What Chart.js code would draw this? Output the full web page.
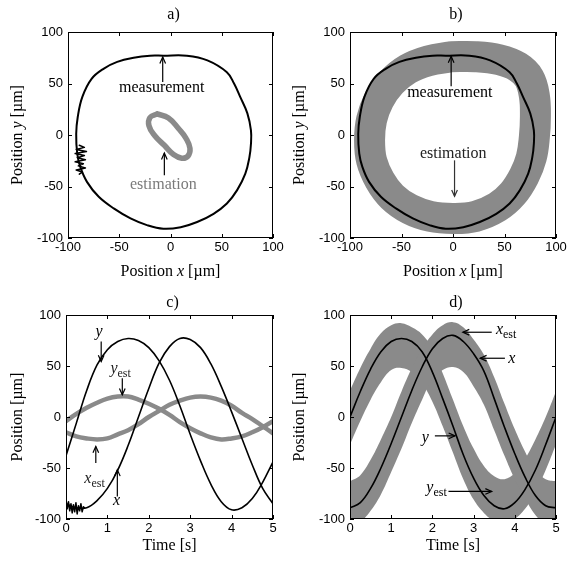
<!DOCTYPE html>
<html><head><meta charset="utf-8">
<script src="https://cdn.jsdelivr.net/npm/chart.js@4.4.0/dist/chart.umd.min.js"></script>
<style>
html,body{margin:0;padding:0;background:#fff;}
#wrap{position:relative;width:569px;height:569px;overflow:hidden;background:#fff;}
canvas{position:absolute;left:0;top:0;}
</style>
</head><body>
<div id="wrap">
<canvas id="ca" width="569" height="569"></canvas>
<canvas id="cb" width="569" height="569"></canvas>
<canvas id="cc" width="569" height="569"></canvas>
<canvas id="cd" width="569" height="569"></canvas>
</div>
<script>
// ---------- data: panels a) and b) (Position x / Position y, µm) ----------
const circX = [-7,16,36,55,62,68,75,78.5,78.5,77,73,65,55,42,26,10,-7,-23,-39,-55,-70,-81.5,-88,-91,-92,-90.5,-86,-77,-65,-52,-36,-20,-7];
const circY = [77,77,72.5,61,50,37,21,4.5,-8.5,-21.5,-37.5,-53.5,-66.5,-76.5,-84.5,-89.5,-91,-87.5,-81,-71.5,-60,-45.5,-31,-18,1,17.5,37,54.5,64.5,71,75,77,77];
const noiseAX = [-89,-84,-92,-82,-93,-84,-91,-83,-93,-85,-90,-83,-92,-86,-89];
const noiseAY = [-10,-12,-14,-16,-18,-20,-22,-24,-26,-28,-30,-32,-34,-36,-38];
const ellX = [-13,-2,8,15,19,17,11,3,-6,-15.5,-21,-20,-13];
const ellY = [20.5,16.5,6,-3,-13,-20.5,-22.5,-19,-10,-0.5,9,17,20.5];
const ringX = [-2,22,45,63,74,79,80,79,76,69,58,43,22,0,-22,-42,-59,-71,-79,-81,-79,-72,-60,-44,-24,-2];
const ringY = [76,76,73,66,55,38,18,-2,-22,-40,-57,-70,-79,-81,-79,-72,-60,-44,-25,-5,15,34,51,64,72,76];

// ---------- data: panel c) (Time s / Position µm) ----------
const timeC = [0,0.25,0.5,0.75,1,1.25,1.5,1.75,2,2.25,2.5,2.75,3,3.25,3.5,3.75,4,4.25,4.5,4.75,5];
const xMeasC = [-85,-89,-89,-82,-70,-52,-28,0,28,53,69,77,76,68,52,30,5,-21,-47,-70,-85];
const yMeasC = [-38,-6,26,51,66,74,77,75,68,55,36,11,-17,-43,-66,-83,-91,-89,-80,-64,-44];
const xEstC  = [-15,-19,-21,-22,-21,-17,-13,-7,0,6,12,16,19,20,19,16,11,4,-2,-9,-16];
const yEstC  = [-4,3,9,14,18,20,20,17,13,8,2,-5,-11,-16,-20,-22,-21,-19,-15,-10,-4];
const noiseCT = [0,0.03,0.06,0.09,0.12,0.15,0.18,0.21,0.24,0.27,0.3,0.33,0.36,0.39,0.42,0.45];
const noiseCV = [-81,-90,-83,-92,-85,-94,-86,-93,-84,-95,-87,-92,-85,-93,-88,-89];

// ---------- data: panel d) ----------
const timeD = [0,0.25,0.5,0.75,1,1.25,1.5,1.75,2,2.25,2.5,2.75,3,3.25,3.5,3.75,4,4.25,4.5,4.75,5];
const xMeasD = [-89,-84,-70,-50,-26,0,26,49,67,77,80,74,62,45,18,-10,-36,-59,-77,-87,-89];
const yMeasD = [0,25,47,64,74,77,74,64,44,18,-9,-37,-60,-77,-87,-90,-84,-71,-52,-27,0];
const xEstHiD = [-63,-57,-42,-22,0,25,48,67,81,90,93,88,76,61,39,13,-12,-34,-52,-61,-63];
const xEstLoD = [-107,-103,-92,-76,-54,-31,-6,17,37,46,49,44,30,12,-13,-38,-61,-80,-96,-105,-107];
const yEstHiD = [26,48,67,82,90,92,88,81,67,43,17,-9,-31,-48,-58,-61,-55,-41,-22,0,25];
const yEstLoD = [-27,-4,17,34,46,48,44,33,15,-9,-35,-61,-81,-94,-102,-105,-100,-90,-74,-52,-27];

// ---------- tick settings ----------
const posTicks = [-100,-50,0,50,100];
const timeTicks = [0,1,2,3,4,5];

// ---------- styling ----------
const GRAY = '#8a8a8a';
const SERIF = '"Liberation Serif","Times New Roman",Times,serif';
const SANS = '"Liberation Sans",Arial,Helvetica,sans-serif';
const TL = 4;

function pts(xs, ys){ return xs.map((v,i)=>({x:v, y:ys[i]})); }
function lineDs(xs, ys, color, width, tension){
  return {data:pts(xs,ys), borderColor:color, borderWidth:width, pointRadius:0, fill:false,
          tension: tension===undefined?0.4:tension, clip:0, borderJoinStyle:'round', borderCapStyle:'round'};
}
function bandHi(ts, hi){ return {data:pts(ts,hi), borderWidth:0, borderColor:'rgba(0,0,0,0)', pointRadius:0, fill:false, tension:0.4, backgroundColor:GRAY}; }
function bandLo(ts, lo){ return {data:pts(ts,lo), borderWidth:0, borderColor:'rgba(0,0,0,0)', pointRadius:0, fill:'-1', tension:0.4, backgroundColor:GRAY}; }

function fontFor(p){ return (p.it?'italic ':'') + (p.sub?12:16) + 'px ' + SERIF; }
function rich(ctx, parts, x, y, rot){
  ctx.save(); ctx.translate(x,y); if(rot) ctx.rotate(-Math.PI/2);
  let w=0; for(const p of parts){ ctx.font=fontFor(p); w+=ctx.measureText(p.t).width; }
  let cx=-w/2; ctx.textAlign='left'; ctx.textBaseline='alphabetic';
  for(const p of parts){ ctx.font=fontFor(p); ctx.fillText(p.t,cx,p.sub?4:0); cx+=ctx.measureText(p.t).width; }
  ctx.restore();
}
function arrow(ctx, x1,y1,x2,y2,color){
  ctx.save(); ctx.strokeStyle=color; ctx.lineWidth=1.2;
  ctx.beginPath(); ctx.moveTo(x1,y1); ctx.lineTo(x2,y2); ctx.stroke();
  const a=Math.atan2(y2-y1,x2-x1), L=7, s=0.42;
  ctx.beginPath();
  ctx.moveTo(x2-L*Math.cos(a-s), y2-L*Math.sin(a-s)); ctx.lineTo(x2,y2);
  ctx.lineTo(x2-L*Math.cos(a+s), y2-L*Math.sin(a+s));
  ctx.stroke(); ctx.restore();
}
function deco(d){
  return { id:'deco', afterDraw(chart){
    const {ctx, chartArea:a, scales:{x,y}} = chart;
    ctx.save();
    ctx.strokeStyle='#000'; ctx.lineWidth=1;
    const L=Math.round(a.left), T=Math.round(a.top), R=Math.round(a.right), B=Math.round(a.bottom);
    ctx.strokeRect(L+0.5, T+0.5, R-L-1, B-T-1);
    ctx.beginPath();
    for(const t of x.ticks){ const p=Math.round(x.getPixelForValue(t.value))+0.5;
      ctx.moveTo(p,B); ctx.lineTo(p,B-TL); ctx.moveTo(p,T); ctx.lineTo(p,T+TL); }
    for(const t of y.ticks){ const p=Math.round(y.getPixelForValue(t.value))+0.5;
      ctx.moveTo(L,p); ctx.lineTo(L+TL,p); ctx.moveTo(R,p); ctx.lineTo(R-TL,p); }
    ctx.stroke();
    ctx.fillStyle='#000';
    rich(ctx, [{t:d.title}], (a.left+a.right)/2 + 3, d.titleY);
    rich(ctx, d.xTitle, (a.left+a.right)/2, d.xTitleY);
    rich(ctx, d.yTitle, d.yTitleX, (a.top+a.bottom)/2, true);
    for(const n of d.notes){
      ctx.fillStyle=n.color||'#000';
      rich(ctx, n.parts, x.getPixelForValue(n.x), y.getPixelForValue(n.y));
      arrow(ctx, x.getPixelForValue(n.a[0]), y.getPixelForValue(n.a[1]), x.getPixelForValue(n.a[2]), y.getPixelForValue(n.a[3]), n.acolor||'#000');
    }
    ctx.restore();
  }};
}
function make(id, cfg){
  return new Chart(document.getElementById(id), {
    type:'line',
    data:{datasets:cfg.datasets},
    options:{
      responsive:false, animation:false, devicePixelRatio:1, events:[],
      layout:{padding:cfg.pad},
      plugins:{legend:{display:false}, tooltip:{enabled:false}, title:{display:false}},
      scales:{
        x:{type:'linear', position:'bottom', min:cfg.xTicks[0], max:cfg.xTicks[cfg.xTicks.length-1],
           afterBuildTicks(s){ s.ticks = cfg.xTicks.map(v=>({value:v})); },
           ticks:{color:'#000', font:{family:SANS,size:13}, padding:2, maxRotation:0, autoSkip:false},
           grid:{display:false, drawTicks:false, tickLength:0}, border:{display:false},
           afterFit(s){ s.height=40; }},
        y:{type:'linear', position:'left', min:posTicks[0], max:posTicks[posTicks.length-1],
           afterBuildTicks(s){ s.ticks = posTicks.map(v=>({value:v})); },
           ticks:{color:'#000', font:{family:SANS,size:13}, padding:5, autoSkip:false},
           grid:{display:false, drawTicks:false, tickLength:0}, border:{display:false},
           afterFit(s){ s.width=40; }}
      }
    },
    plugins:[deco(cfg.deco)]
  });
}

const xPosTitle = [{t:'Position '},{t:'x',it:true},{t:' [µm]'}];
const yPosTitle = [{t:'Position '},{t:'y',it:true},{t:' [µm]'}];

// a)
make('ca', {
  pad:{left:28, right:296, top:32, bottom:291}, xTicks:posTicks,
  datasets:[
    lineDs(noiseAX, noiseAY, '#000', 1.5, 0),
    lineDs(circX, circY, '#000', 2),
    lineDs(ellX, ellY, GRAY, 5.5, 0.45)
  ],
  deco:{title:'a)', titleY:19, xTitle:xPosTitle, xTitleY:276, yTitle:yPosTitle, yTitleX:22,
    notes:[
      {parts:[{t:'measurement'}], x:-8.6, y:41.9, a:[-7.6,51.5,-7.6,75.7]},
      {parts:[{t:'estimation'}], x:-7, y:-52.2, color:'#7a7a7a', a:[-6,-39.1,-6,-17.5]}
    ]}
});
// b)
make('cb', {
  pad:{left:310, right:13, top:32, bottom:291}, xTicks:posTicks,
  datasets:[
    lineDs(circX, circY, '#000', 2),
    lineDs(ringX, ringY, GRAY, 31, 0.4)
  ],
  deco:{title:'b)', titleY:19, xTitle:xPosTitle, xTitleY:276, yTitle:yPosTitle, yTitleX:304,
    notes:[
      {parts:[{t:'measurement'}], x:-3.1, y:36.7, a:[-1.8,47.3,-1.8,76.4]},
      {parts:[{t:'estimation'}], x:0.2, y:-22.8, color:'#222', acolor:'#333', a:[1.5,-24.6,1.5,-59.5]}
    ]}
});
// c)
make('cc', {
  pad:{left:26, right:296, top:315, bottom:10}, xTicks:timeTicks,
  datasets:[
    lineDs(noiseCT, noiseCV, '#000', 1.5, 0),
    lineDs(timeC, xMeasC, '#000', 1.6),
    lineDs(timeC, yMeasC, '#000', 1.6),
    lineDs(timeC, xEstC, GRAY, 4.5),
    lineDs(timeC, yEstC, GRAY, 4.5)
  ],
  deco:{title:'c)', titleY:307, xTitle:[{t:'Time [s]'}], xTitleY:550, yTitle:[{t:'Position [µm]'}], yTitleX:22,
    notes:[
      {parts:[{t:'y',it:true}], x:0.80, y:79, a:[0.85,73.9,0.85,54.3]},
      {parts:[{t:'y',it:true},{t:'est',sub:true}], x:1.32, y:43.2, color:'#222', a:[1.36,38,1.36,21.7]},
      {parts:[{t:'x',it:true},{t:'est',sub:true}], x:0.69, y:-64.8, color:'#222', a:[0.72,-45.2,0.72,-28.9]},
      {parts:[{t:'x',it:true}], x:1.22, y:-86, a:[1.24,-77.9,1.24,-51.7]}
    ]}
});
// d)
make('cd', {
  pad:{left:310, right:13, top:315, bottom:10}, xTicks:timeTicks,
  datasets:[
    lineDs(timeD, xMeasD, '#000', 1.6),
    lineDs(timeD, yMeasD, '#000', 1.6),
    bandHi(timeD, xEstHiD),
    bandLo(timeD, xEstLoD),
    bandHi(timeD, yEstHiD),
    bandLo(timeD, yEstLoD)
  ],
  deco:{title:'d)', titleY:307, xTitle:[{t:'Time [s]'}], xTitleY:550, yTitle:[{t:'Position [µm]'}], yTitleX:304,
    notes:[
      {parts:[{t:'x',it:true},{t:'est',sub:true}], x:3.79, y:81.4, a:[3.44,83.1,2.74,83.1]},
      {parts:[{t:'x',it:true}], x:3.93, y:52.7, a:[3.76,57.6,3.16,57.6]},
      {parts:[{t:'y',it:true}], x:1.83, y:-24.3, a:[2.06,-18.5,2.55,-18.5]},
      {parts:[{t:'y',it:true},{t:'est',sub:true}], x:2.10, y:-73.3, a:[2.39,-73,3.44,-73]}
    ]}
});
</script>
</body></html>
